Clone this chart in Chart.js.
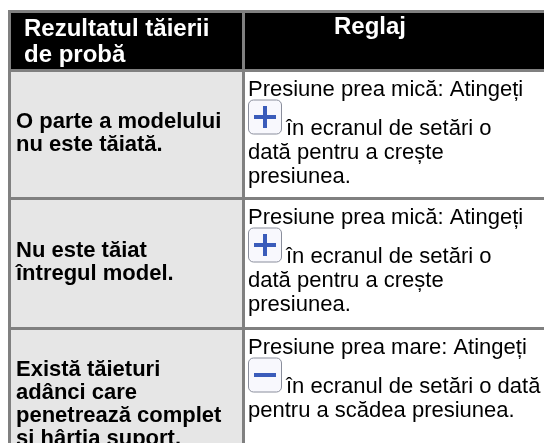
<!DOCTYPE html>
<html>
<head>
<meta charset="utf-8">
<script src="https://cdn.jsdelivr.net/npm/chart.js@4"></script>
<style>
  html, body { margin: 0; padding: 0; background: #fff; }
  #wrap { width: 544px; height: 443px; }
</style>
</head>
<body>
<div id="wrap"><canvas id="table-chart" width="544" height="443"></canvas></div>
<script>
// Textele tabelului
const headerLeft = ['Rezultatul tăierii', 'de probă'];
const headerRight = ['Reglaj'];
const results = [
  ['O parte a modelului', 'nu este tăiată.'],
  ['Nu este tăiat', 'întregul model.'],
  ['Există tăieturi', 'adânci care', 'penetrează complet', 'și hârtia suport.']
];
const fixIntro = ['Presiune prea mică: Atingeți', 'Presiune prea mică: Atingeți', 'Presiune prea mare: Atingeți'];
const fixIcon = ['+', '+', '-'];
const fixAfterIcon = ['în ecranul de setări o', 'în ecranul de setări o', 'în ecranul de setări o dată'];
const fixRest = [
  ['dată pentru a crește', 'presiunea.'],
  ['dată pentru a crește', 'presiunea.'],
  ['pentru a scădea presiunea.']
];

// Geometria tabelului (în unitățile scalelor)
const grid = {
  left: 9.5, split: 243.5, right: 560,
  top: 11.5, headBottom: 70.5,
  rowBottoms: [198.5, 328.5, 482]
};

const FONT = '"Liberation Sans", Arial, sans-serif';

const tablePlugin = {
  id: 'tablePlugin',
  afterDraw(chart) {
    const ctx = chart.ctx;
    const xs = chart.scales.x;
    const ys = chart.scales.y;
    const px = v => xs.getPixelForValue(v);
    const py = v => ys.getPixelForValue(v);

    ctx.save();

    // Fundaluri
    ctx.fillStyle = '#000';
    ctx.fillRect(px(grid.left), py(grid.top), px(grid.right) - px(grid.left), py(grid.headBottom) - py(grid.top));
    let prev = grid.headBottom;
    grid.rowBottoms.forEach(b => {
      ctx.fillStyle = '#e6e6e6';
      ctx.fillRect(px(grid.left), py(prev), px(grid.split) - px(grid.left), py(b) - py(prev));
      ctx.fillStyle = '#fff';
      ctx.fillRect(px(grid.split), py(prev), px(grid.right) - px(grid.split), py(b) - py(prev));
      prev = b;
    });

    // Linii
    ctx.strokeStyle = '#808080';
    ctx.lineWidth = 3;
    const hLines = [grid.top, grid.headBottom].concat(grid.rowBottoms.slice(0, 2));
    hLines.forEach(y => {
      ctx.beginPath();
      ctx.moveTo(px(grid.left) - 1.5, py(y));
      ctx.lineTo(px(grid.right), py(y));
      ctx.stroke();
    });
    [grid.left, grid.split].forEach(x => {
      ctx.beginPath();
      ctx.moveTo(px(x), py(grid.top));
      ctx.lineTo(px(x), py(grid.rowBottoms[2]));
      ctx.stroke();
    });

    // Antet
    ctx.fillStyle = '#fff';
    ctx.textBaseline = 'alphabetic';
    ctx.font = 'bold 24px ' + FONT;
    headerLeft.forEach((t, i) => ctx.fillText(t, px(24), py(36 + i * 26)));
    headerRight.forEach((t, i) => ctx.fillText(t, px(334), py(34 + i * 26)));

    // Rânduri
    let rowTop = grid.headBottom + 1.5;
    results.forEach((lines, r) => {
      const rowBottom = grid.rowBottoms[r] - 1.5;
      const mid = (rowTop + rowBottom) / 2;
      const lh = 23;
      ctx.fillStyle = '#000';
      ctx.font = 'bold 22px ' + FONT;
      const first = mid - (lines.length * lh) / 2 + 16.5;
      lines.forEach((t, i) => ctx.fillText(t, px(16), py(first + i * lh)));

      // Coloana din dreapta
      ctx.font = '22px ' + FONT;
      const b1 = rowTop + 23.5;
      const b2 = b1 + 39;
      ctx.fillText(fixIntro[r], px(248), py(b1));
      drawIcon(ctx, px(248), py(b2 - 35), px(282) - px(248), py(b2) - py(b2 - 35), fixIcon[r]);
      ctx.fillStyle = '#000';
      ctx.font = '22px ' + FONT;
      ctx.fillText(fixAfterIcon[r], px(286), py(b2));
      fixRest[r].forEach((t, i) => ctx.fillText(t, px(248), py(b2 + 24 * (i + 1))));

      rowTop = grid.rowBottoms[r] + 1.5;
    });

    ctx.restore();
  }
};

function drawIcon(ctx, x, y, w, h, sign) {
  ctx.save();
  ctx.beginPath();
  ctx.roundRect(x + 0.5, y + 0.5, w - 1, h - 1, 5);
  ctx.fillStyle = '#f8f8fd';
  ctx.fill();
  ctx.strokeStyle = '#8a8e9c';
  ctx.lineWidth = 1;
  ctx.stroke();
  const cx = x + w / 2;
  const cy = y + h / 2;
  ctx.fillStyle = '#3b5cba';
  ctx.fillRect(cx - 11, cy - 2, 22, 4);
  if (sign === '+') {
    ctx.fillRect(cx - 2, cy - 11, 4, 22);
  }
  ctx.restore();
}

new Chart(document.getElementById('table-chart'), {
  type: 'scatter',
  data: { datasets: [{ data: [] }] },
  options: {
    responsive: false,
    animation: false,
    layout: { padding: 0 },
    plugins: { legend: { display: false }, tooltip: { enabled: false } },
    scales: {
      x: { type: 'linear', min: 0, max: 544, display: false },
      y: { type: 'linear', min: 0, max: 443, reverse: true, display: false }
    }
  },
  plugins: [tablePlugin]
});
</script>
</body>
</html>
